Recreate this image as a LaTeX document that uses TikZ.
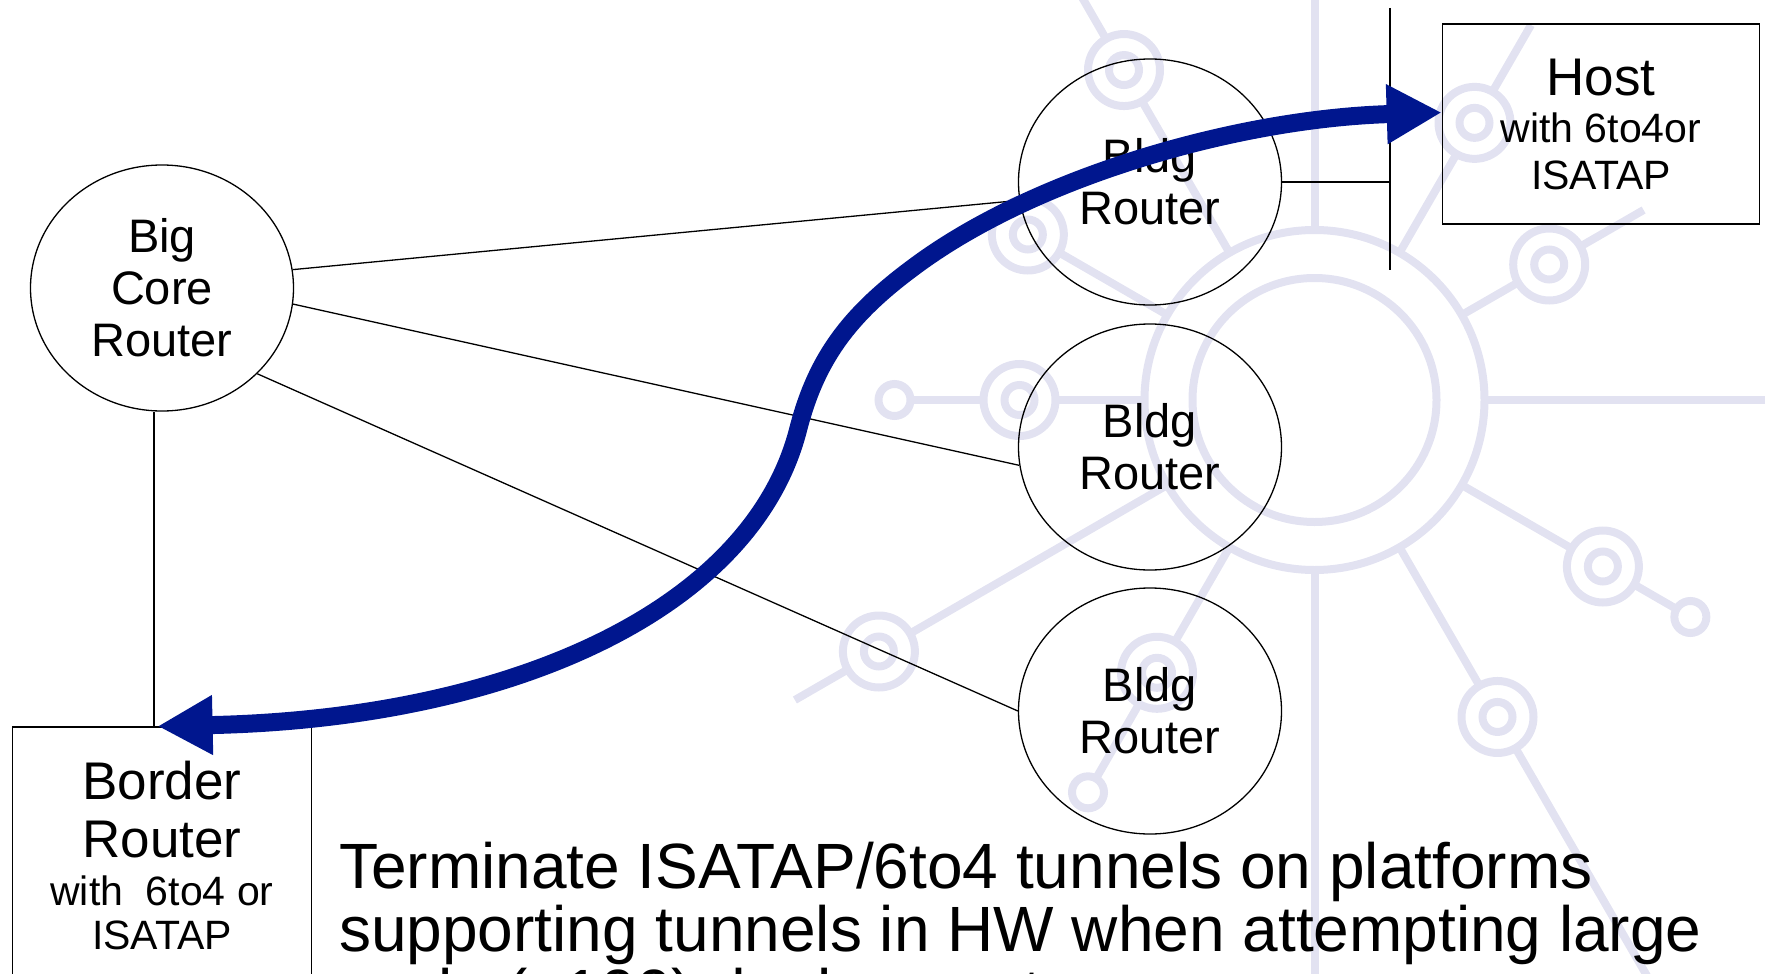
\documentclass[tikz,border=0pt]{standalone}
\usepackage{fontspec}
\setmainfont{Liberation Sans}
\usetikzlibrary{shapes.geometric,arrows.meta}
\definecolor{tunnelblue}{RGB}{0,22,142}
\definecolor{logolilas}{RGB}{226,226,241}
\newcommand{\petit}{\fontsize{41}{47}\selectfont}
\begin{document}
\begin{tikzpicture}[x=1pt,y=-1pt]
\tikzset{routeur/.style={draw, ellipse, line width=1.3pt, minimum width=263pt, minimum height=246pt, inner sep=0pt, align=center, font=\fontsize{47}{52}\selectfont},
boite/.style={draw, rectangle, line width=1.6pt, inner sep=0pt, align=center},
logo/.style={draw=logolilas, line width=8pt},
lien/.style={line width=1.3pt},
tunnel/.style={line width=18pt, draw=tunnelblue, {Triangle[length=55pt,width=56pt]}-{Triangle[length=55pt,width=56pt]}}}
\useasboundingbox (0,0) rectangle (1765,974);
\clip (0,0) rectangle (1765,974);
\coordinate (hub) at (1314.5,400);
\draw[logo] (hub) circle (122pt) circle (170pt);
\foreach \a/\s in {0/460, 90/410, 270/600}
  \draw[logo] ([shift={(\a:170pt)}]hub) -- ([shift={(\a:\s pt)}]hub);
\foreach \a/\d/\e in {30/271/380, 60/320/433, 120/381/490, 150/331/369, 180/295/333, 210/503/600, 240/315/353, 300/366/680, 330/333/371} {
  \pgfmathsetmacro\ra{\d-36}
  \pgfmathsetmacro\rb{\d+36}
  \draw[logo] ([shift={(\a:170pt)}]hub) -- ([shift={(\a:\ra pt)}]hub);
  \draw[logo] ([shift={(\a:\d pt)}]hub) circle (36pt) circle (15pt);
  \draw[logo] ([shift={(\a:\rb pt)}]hub) -- ([shift={(\a:\e pt)}]hub);
}
\foreach \a/\d/\e in {180/295/420, 240/315/453, 330/333/434} {
  \pgfmathsetmacro\rb{\d+36}
  \pgfmathsetmacro\rc{\e-16}
  \draw[logo] ([shift={(\a:\rb pt)}]hub) -- ([shift={(\a:\rc pt)}]hub);
  \draw[logo] ([shift={(\a:\e pt)}]hub) circle (16pt);
}
\node[routeur] (core) at (162,288) {Big\\Core\\Router};
\node[routeur] (b1) at (1150,182) {Bldg\\Router};
\node[routeur] (b2) at (1150,447) {Bldg\\Router};
\node[routeur] (b3) at (1150,711) {Bldg\\Router};
\node[boite, minimum width=317pt, minimum height=200pt, font=\fontsize{53}{47}\selectfont] (host) at (1601,124) {Host\\\petit with 6to4or\\\petit ISATAP};
\node[boite, minimum width=299pt, minimum height=256pt, font=\fontsize{53}{58}\selectfont] (border) at (162,855) {Border\\Router\\[-10pt]\petit with\ \ 6to4 or\\[-14pt]\petit ISATAP};
\node[anchor=north west, inner sep=0pt, align=left, font=\fontsize{64}{63}\selectfont] (note) at (339,842) {Terminate ISATAP/6to4 tunnels on platforms\\supporting tunnels in HW when attempting large\\scale (>100) deployments};
\coordinate (lanTop) at (1390,8);
\coordinate (lanBot) at (1390,270);
\draw[lien] (core.8) -- (b1.188);
\draw[lien] (core.-7) -- (b2.188);
\draw[lien] (core.-42) -- (b3.180);
\draw[lien] ([xshift=-8pt]core.south) -- ([xshift=-8pt]core.south |- border.north);
\draw[lien] (lanTop) -- (lanBot);
\draw[lien] (b1.east) -- (b1.east -| lanTop);
\coordinate (bend) at (798,430);
\coordinate (upper) at (920,262.5);
\draw[tunnel] ([xshift=-4.4pt]border.north) .. controls (507.6,718.9) and (751,611.6) .. (bend) .. controls (817,355.5) and (852,311.6) .. (upper) .. controls (1041.5,174.75) and (1241,118.5) .. ([yshift=11.5pt]host.west);
\end{tikzpicture}
\end{document}
